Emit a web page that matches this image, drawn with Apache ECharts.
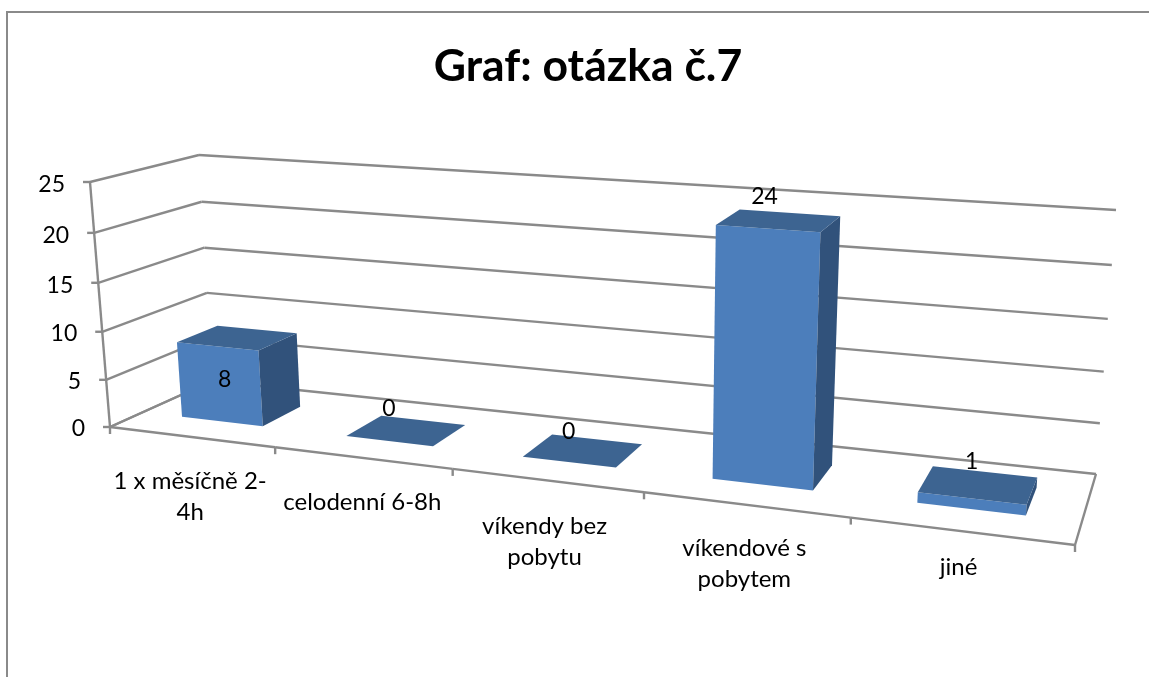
<!DOCTYPE html>
<html><head><meta charset="utf-8">
<style>html,body{margin:0;padding:0;background:#fff}#c{width:1149px;height:677px}</style>
<script src="https://cdn.jsdelivr.net/npm/echarts@6/dist/echarts.min.js"></script>
</head><body><div id="c"></div>
<script>
// --- data ---
const categories = ['1 x měsíčně 2-\n4h', 'celodenní 6-8h', 'víkendy bez\npobytu', 'víkendové s\npobytem', 'jiné'];
const values = [8, 0, 0, 24, 1];
const yTicks = [0, 5, 10, 15, 20, 25];
const titleText = 'Graf: otázka č.7';

// --- styling ---
const LINE = '#8a8a8a', FRONT = '#4C7EBB', TOP = '#3D6491', SIDE = '#31527B';
const FONT = 'Lato, Carlito, "Open Sans", sans-serif';
const BAR_FRACTION = 0.5, D0 = 0.3, D1 = 0.7;
// label offsets in px, relative to the projected anchor of each bar
const valueNudge = [[-32, 50], [-34, -12], [-28, -8], [-25, -16], [-13, -10]];
const catNudge = [[-1, 29], [0, 29], [-2, 30], [-1, 28], [-2, 21]];

// --- perspective projection: (u along categories, v up the value axis, d into the depth) ---
const corners = { // [u,v,d]
  '000': [110, 427], '100': [1075, 545], '010': [90, 182], '110': [1096, 255],
  '001': [212, 381], '101': [1096, 474], '011': [199, 155], '111': [1116, 210]
};
const WU = -0.174, WV = -0.046, WD = 0.10;
function project(u, v, d) {
  let X = 0, Y = 0, W = 0;
  for (const a of [0, 1]) for (const b of [0, 1]) for (const c of [0, 1]) {
    const p = corners['' + a + b + c];
    const w = 1 + WU * a + WV * b + WD * c;
    const k = (a ? u : 1 - u) * (b ? v : 1 - v) * (c ? d : 1 - d);
    X += k * w * p[0]; Y += k * w * p[1]; W += k * w;
  }
  return [X / W, Y / W];
}
function unit(params, api, cat, val) {
  const cs = params.coordSys, p = api.coord([cat, val]);
  return [(p[0] - cs.x) / cs.width, (cs.y + cs.height - p[1]) / cs.height];
}
const line = (a, b) => ({ type: 'line', shape: { x1: a[0], y1: a[1], x2: b[0], y2: b[1] }, style: { stroke: LINE, lineWidth: 2.4 } });
const poly = (pts, fill) => ({ type: 'polygon', shape: { points: pts }, style: { fill: fill, stroke: null } });
const text = (x, y, s, size, align, va, lh) => ({ type: 'text', style: { x, y, text: s, fill: '#000', font: size + 'px ' + FONT, align, verticalAlign: va, lineHeight: lh } });

const chart = echarts.init(document.getElementById('c'), null, { renderer: 'canvas' });
chart.setOption({
  animation: false,
  backgroundColor: '#fff',
  title: { text: titleText, left: 583, top: 39, textAlign: 'center', textStyle: { fontFamily: FONT, fontWeight: 'bold', fontSize: 44.5, color: '#000' } },
  grid: { left: 100, right: 100, top: 100, bottom: 100 },
  xAxis: { type: 'category', data: categories, show: false },
  yAxis: { type: 'value', min: 0, max: 25, interval: 5, show: false },
  graphic: [{ type: 'polyline', shape: { points: [[7, 677], [7, 12], [1149, 12]] }, style: { stroke: LINE, lineWidth: 2, fill: null } }],
  series: [
    { // value-axis grid lines, walls and tick labels
      type: 'custom', coordinateSystem: 'cartesian2d', clip: false, silent: true, z: 1,
      data: yTicks.map(t => [0, t]), encode: { x: 0, y: 1 },
      renderItem(params, api) {
        const t = api.value(1), v = unit(params, api, 0, t)[1];
        const a = project(0, v, 0), b = project(0, v, 1), c = project(1, v, 1);
        const kids = [line(a, b), line(b, c), line([a[0] - 7, a[1]], a),
          text(a[0] - 25, a[1] + 2 + (v > 0.5 ? 1 : 0), String(t), 23, 'right', 'middle')];
        if (t === yTicks[yTicks.length - 1]) kids.push(line(project(0, 0, 0), a));
        return { type: 'group', children: kids };
      }
    },
    { // floor outline, category ticks and labels
      type: 'custom', coordinateSystem: 'cartesian2d', clip: false, silent: true, z: 1,
      data: categories.map((c, i) => [i, 0]), encode: { x: 0, y: 1 },
      renderItem(params, api) {
        const i = api.value(0), n = categories.length;
        const cu = unit(params, api, i, 0)[0], hw = api.size([1, 0])[0] / params.coordSys.width / 2;
        const l = project(cu - hw, 0, 0), r = project(cu + hw, 0, 0), m = project(cu, 0, 0);
        const kids = [line(l, r), line(r, [r[0], r[1] + 7]),
          text(m[0] + catNudge[i][0], m[1] + catNudge[i][1], categories[i], 24, 'center', 'top', 31)];
        if (i === 0) kids.push(line(l, [l[0], l[1] + 7]), line(l, project(0, 0, 1)));
        if (i === n - 1) kids.push(line(r, project(1, 0, 1)));
        return { type: 'group', children: kids };
      }
    },
    { // bars
      type: 'custom', coordinateSystem: 'cartesian2d', clip: false, silent: true, z: 2,
      data: values.map((v, i) => [i, v]), encode: { x: 0, y: 1 },
      renderItem(params, api) {
        const i = api.value(0), val = api.value(1);
        const [cu, v] = unit(params, api, i, val);
        const hw = api.size([1, 0])[0] / params.coordSys.width * BAR_FRACTION / 2;
        const u0 = cu - hw, u1 = cu + hw;
        const kids = [];
        if (v > 0) {
          kids.push(poly([project(u0, 0, D0), project(u1, 0, D0), project(u1, v, D0), project(u0, v, D0)], FRONT));
          kids.push(poly([project(u1, 0, D0), project(u1, 0, D1), project(u1, v, D1), project(u1, v, D0)], SIDE));
        }
        kids.push(poly([project(u0, v, D0), project(u1, v, D0), project(u1, v, D1), project(u0, v, D1)], TOP));
        return { type: 'group', children: kids };
      }
    },
    { // value labels
      type: 'custom', coordinateSystem: 'cartesian2d', clip: false, silent: true, z: 3,
      data: values.map((v, i) => [i, v]), encode: { x: 0, y: 1 },
      renderItem(params, api) {
        const i = api.value(0), val = api.value(1);
        const [cu, v] = unit(params, api, i, val);
        const p = project(cu, v, D1);
        return text(p[0] + valueNudge[i][0], p[1] + valueNudge[i][1], String(val), 23, 'center', 'middle');
      }
    }
  ]
});
</script></body></html>
